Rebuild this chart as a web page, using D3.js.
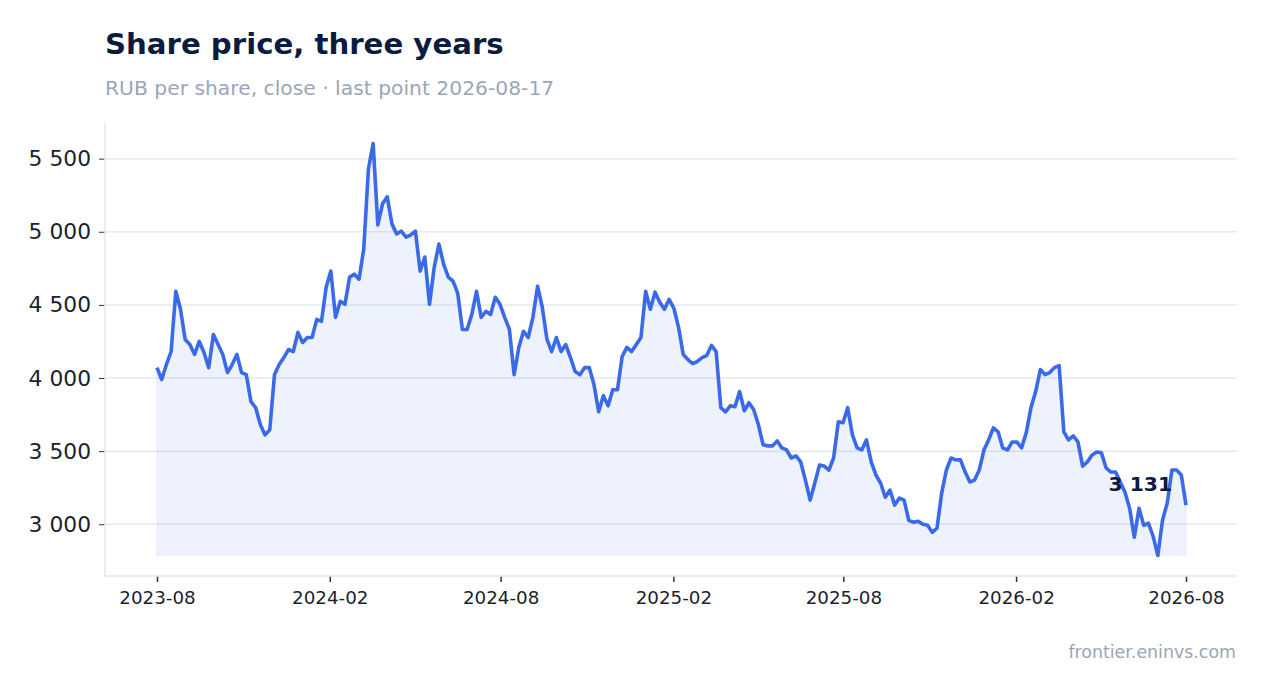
<!DOCTYPE html>
<html>
<head>
<meta charset="utf-8">
<script src="https://cdn.jsdelivr.net/npm/d3@7"></script>
<style>
  body { margin: 0; background: #fff; font-family: "DejaVu Sans", sans-serif; }
</style>
</head>
<body>
<div id="chart"></div>
<script>
var startDate = "2023-08-17";
var endDate = "2026-08-17";

var prices = [
  4071, 3990, 4092, 4181, 4593, 4470, 4264, 4229, 4161, 4250,
  4174, 4071, 4298, 4229, 4161, 4037, 4092, 4161, 4037, 4023,
  3838, 3797, 3680, 3611, 3646, 4023, 4092, 4140, 4195, 4181,
  4312, 4243, 4277, 4277, 4401, 4387, 4621, 4731, 4415, 4525,
  4504, 4690, 4710, 4676, 4882, 5431, 5603, 5047, 5191, 5239,
  5054, 4985, 5005, 4964, 4978, 5005, 4731, 4827, 4504, 4758,
  4916, 4779, 4690, 4662, 4580, 4332, 4332, 4435, 4593, 4415,
  4456, 4435, 4552, 4504, 4415, 4332, 4023, 4209, 4319, 4277,
  4415, 4628, 4484, 4264, 4181, 4277, 4181, 4229, 4140, 4044,
  4023, 4071, 4071, 3955, 3769, 3879, 3810, 3920, 3920, 4147,
  4209, 4181, 4229, 4277, 4593, 4470, 4587, 4518, 4470, 4538,
  4477, 4346, 4161, 4126, 4099, 4113, 4140, 4154, 4223, 4181,
  3797, 3769, 3810, 3804, 3907, 3776, 3831, 3783, 3680, 3543,
  3536, 3536, 3570, 3522, 3508, 3453, 3467, 3426, 3302, 3165,
  3282, 3405, 3398, 3371, 3453, 3701, 3694, 3797, 3611, 3522,
  3508, 3577, 3426, 3337, 3282, 3185, 3234, 3131, 3179, 3165,
  3027, 3014, 3020, 3000, 2993, 2945, 2973, 3213, 3371, 3453,
  3440, 3440, 3357, 3289, 3302, 3371, 3508, 3577, 3659, 3632,
  3522, 3508, 3563, 3563, 3522, 3625, 3797, 3907, 4058, 4023,
  4037, 4071, 4085, 3632, 3577, 3604, 3563, 3398, 3426, 3474,
  3494, 3488, 3385, 3357, 3357, 3289, 3220, 3110, 2911, 3110,
  2993, 3007, 2918, 2787, 3027, 3144, 3371, 3371, 3337, 3131
];

var titleText = "Share price, three years";
var subtitleText = "RUB per share, close \u00b7 last point 2026-08-17";
var sourceText = "frontier.eninvs.com";

var W = 1267, H = 693;
var margin = {left: 105, right: 30, top: 123, bottom: 117};

var parse = d3.timeParse("%Y-%m-%d");
var t0 = parse(startDate), t1 = parse(endDate);
var n = prices.length;
var data = prices.map(function(v, i) {
  return {date: new Date(+t0 + (t1 - t0) * i / (n - 1)), value: v};
});

var locale = d3.formatLocale({decimal: ",", thousands: " ", grouping: [3], currency: ["", ""]});
var fmt = locale.format(",d");

var svg = d3.select("#chart").append("svg")
  .attr("width", W)
  .attr("height", H);

var x0 = margin.left, x1 = W - margin.right;
var y0 = H - margin.bottom, y1 = margin.top;

var x = d3.scaleTime()
  .domain([t0, t1])
  .range([x0 + 52, x1 - 51]);

var vmin = d3.min(prices), vmax = d3.max(prices);
var pad = (vmax - vmin) * 0.05;
var y = d3.scaleLinear()
  .domain([vmin - pad, vmax + pad])
  .range([y0, y1]);

// titles
svg.append("text")
  .attr("x", 105).attr("y", 54)
  .attr("font-size", 29.2).attr("font-weight", "bold")
  .attr("fill", "#0c1b40")
  .text(titleText);

svg.append("text")
  .attr("x", 105).attr("y", 95)
  .attr("font-size", 20.3)
  .attr("fill", "#9aa6b8")
  .text(subtitleText);

// gridlines
var yTicks = d3.range(3000, 5501, 500);
svg.append("g")
  .selectAll("line")
  .data(yTicks)
  .enter().append("line")
  .attr("x1", x0).attr("x2", x1)
  .attr("y1", function(d) { return y(d); })
  .attr("y2", function(d) { return y(d); })
  .attr("stroke", "#e4e8f0")
  .attr("stroke-width", 1.5);

// y axis
var yAxis = svg.append("g")
  .attr("transform", "translate(" + x0 + ",0)")
  .call(d3.axisLeft(y).tickValues(yTicks).tickFormat(fmt).tickSize(6).tickPadding(8));
yAxis.select(".domain").remove();
yAxis.selectAll(".tick line").attr("stroke", "#333");
yAxis.selectAll(".tick text")
  .attr("font-family", "DejaVu Sans, sans-serif")
  .attr("font-size", 21.8)
  .attr("fill", "#1b1f2e");

// x axis
var xTicks = d3.range(0, 7).map(function(k) { return d3.timeMonth.offset(t0, 6 * k); });
var xAxis = svg.append("g")
  .attr("transform", "translate(0," + y0 + ")")
  .call(d3.axisBottom(x).tickValues(xTicks).tickFormat(d3.timeFormat("%Y-%m")).tickSize(6).tickPadding(9));
xAxis.select(".domain").remove();
xAxis.selectAll(".tick line").attr("stroke", "#333").attr("stroke-width", 1.5);
xAxis.selectAll(".tick text")
  .attr("font-family", "DejaVu Sans, sans-serif")
  .attr("font-size", 18.3)
  .attr("fill", "#1b1f2e");

// frame lines
svg.append("line")
  .attr("x1", x0).attr("x2", x0).attr("y1", y1).attr("y2", y0)
  .attr("stroke", "#e2e6ee").attr("stroke-width", 1.5);
svg.append("line")
  .attr("x1", x0).attr("x2", x1).attr("y1", y0).attr("y2", y0)
  .attr("stroke", "#e2e6ee").attr("stroke-width", 1.5);

// area down to the minimum
var area = d3.area()
  .x(function(d) { return x(d.date); })
  .y0(y(vmin))
  .y1(function(d) { return y(d.value); });

svg.append("path")
  .datum(data)
  .attr("d", area)
  .attr("fill", "#3a6be6")
  .attr("fill-opacity", 0.085)
  .attr("stroke", "#3a6be6")
  .attr("stroke-opacity", 0.07)
  .attr("stroke-width", 1.5);

var line = d3.line()
  .x(function(d) { return x(d.date); })
  .y(function(d) { return y(d.value); });

svg.append("path")
  .datum(data)
  .attr("d", line)
  .attr("fill", "none")
  .attr("stroke", "#3a6ae8")
  .attr("stroke-width", 3.6)
  .attr("stroke-linejoin", "round");

// last value label
var last = data[n - 1];
svg.append("text")
  .attr("x", x(last.date) - 14)
  .attr("y", y(last.value) - 14)
  .attr("text-anchor", "end")
  .attr("font-size", 20.3)
  .attr("font-weight", "bold")
  .attr("fill", "#0c1b40")
  .text(fmt(last.value));

// source
svg.append("text")
  .attr("x", 1236).attr("y", 658)
  .attr("text-anchor", "end")
  .attr("font-size", 17.4)
  .attr("fill", "#9aa6b8")
  .text(sourceText);
</script>
</body>
</html>
